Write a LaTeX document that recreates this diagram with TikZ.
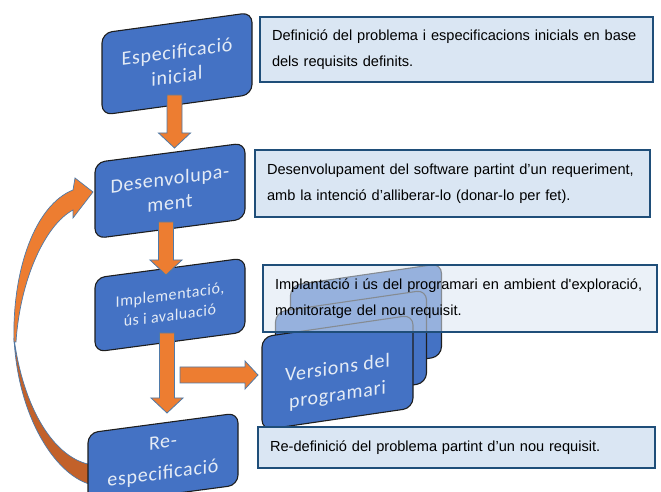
\documentclass[tikz,border=0pt]{standalone}
\usepackage{fontspec}
\setmainfont{Liberation Sans}
\newfontfamily\notefont{Liberation Sans}
\newfontfamily\stagefont[LetterSpace=3.5]{Carlito}
\usetikzlibrary{calc}

\definecolor{stagefill}{HTML}{4472C4}
\definecolor{stageedge}{HTML}{1E1E1E}
\definecolor{stagetext}{HTML}{E4EBF5}
\definecolor{notefill}{HTML}{DAE6F3}
\definecolor{noteedge}{HTML}{1F4E79}
\definecolor{arrowfill}{HTML}{ED7D31}
\definecolor{arrowdark}{HTML}{C2612A}
\definecolor{arrowedge}{HTML}{4F7AA8}

\tikzset{
  stage/.style={draw=stageedge, line width=1.1pt, fill=stagefill,
    rounded corners=10pt, minimum width=150pt, inner sep=0pt,
    text=stagetext, align=center, font=\stagefont\fontsize{20}{24.5}\selectfont},
  stagelabel/.style={text=stagetext, align=center, inner sep=0pt,
    font=\stagefont\fontsize{20}{27}\selectfont},
  note/.style={draw=noteedge, line width=2.8pt, fill=notefill,
    inner xsep=12pt, inner ysep=0pt, align=left,
    font=\notefont\fontsize{14.6}{26.5}\selectfont},
  blockarrow/.style={fill=arrowfill, draw=arrowedge, line width=0.8pt, line join=miter},
  pics/downarrow/.style={code={
    \draw[blockarrow] (-7.5,0) -- (-7.5,-#1+15) -- (-16,-#1+15) -- (0,-#1)
      -- (16,-#1+15) -- (7.5,-#1+15) -- (7.5,0) -- cycle;}},
  pics/rightarrow/.style={code={
    \draw[blockarrow] (0,-8) -- (#1-13,-8) -- (#1-13,-14) -- (#1,0)
      -- (#1-13,14) -- (#1-13,8) -- (0,8) -- cycle;}},
}

\begin{document}
\begin{tikzpicture}[x=1pt,y=1pt]
\useasboundingbox (0,0) rectangle (661,492);

% curved feedback arrow: dark underside, then the lit front with its head
\filldraw[fill=arrowdark, draw=arrowedge, line width=0.7pt]
  (14,154) .. controls (18,72) and (58,14) .. (93,7) -- (93,27)
  .. controls (55,32) and (25,82) .. (15,147) -- cycle;
\filldraw[fill=arrowfill, draw=arrowedge, line width=0.7pt]
  (14,150) .. controls (12,222) and (35,287) .. (73,302) -- (75,314)
  -- (93,300) -- (73,274) -- (73,282)
  .. controls (45,267) and (20,212) .. (16,150) -- cycle;

% process stages
\node[stage, yslant=0.137, minimum height=82pt] (spec) at (177,428.25) {Especificació\\inicial};
\node[stage, yslant=0.13, minimum height=76pt] (dev) at (170,301.25) {Desenvolupa-\\ment};
\node[stage, yslant=0.133, minimum height=74pt, font=\stagefont\fontsize{16}{20.5}\selectfont]
  (impl) at (170,187) {Implementació,\\ús i avaluació};
\node[stage, yslant=0.133, minimum height=72pt, font=\stagefont\fontsize{20}{31}\selectfont]
  (respec) at (163,33) {Re-\\especificació};

% stacked software versions
\node[stage, yslant=0.146, minimum width=151pt, minimum height=93pt] (ver3) at (366,171) {};
\node[stage, yslant=0.146, minimum width=151pt, minimum height=93pt] (ver2) at (351,144.5) {};
\node[stage, yslant=0.146, minimum width=151pt, minimum height=93pt] (ver1) at (337.5,119.5) {};
\node[stagelabel, yslant=0.146] (ver1label) at ($(ver1.center)+(0,-10)$) {Versions del\\programari};

% flow arrows
\coordinate (a1) at (174.5,397);
\coordinate (a2) at (166,270);
\coordinate (a3) at (167,159);
\coordinate (a4) at (180,117);
\pic at (a1) {downarrow=53};
\pic at (a2) {downarrow=53};
\pic at (a3) {downarrow=80};
\pic at (a4) {rightarrow=78};

% descriptions
\node[note, minimum width=393pt, minimum height=65pt, text width=369pt] (t1) at (456.5,442.5)
  {Definició del problema i especificacions inicials en base\\dels requisits definits.};
\node[note, minimum width=395pt, minimum height=67pt, text width=371pt] (t2) at (452.5,308.5)
  {Desenvolupament del software partint d’un requeriment,\\amb la intenció d’alliberar-lo (donar-lo per fet).};
\node[note, fill opacity=0.55, text opacity=1, minimum width=394pt, minimum height=67pt, text width=370pt]
  (t3) at (460,193.5)
  {Implantació i ús del programari en ambient d'exploració,\\monitoratge del nou requisit.};
\node[note, minimum width=397pt, minimum height=41pt, text width=373pt] (t4) at (456.5,44.5)
  {Re-definició del problema partint d’un nou requisit.};
\end{tikzpicture}
\end{document}
